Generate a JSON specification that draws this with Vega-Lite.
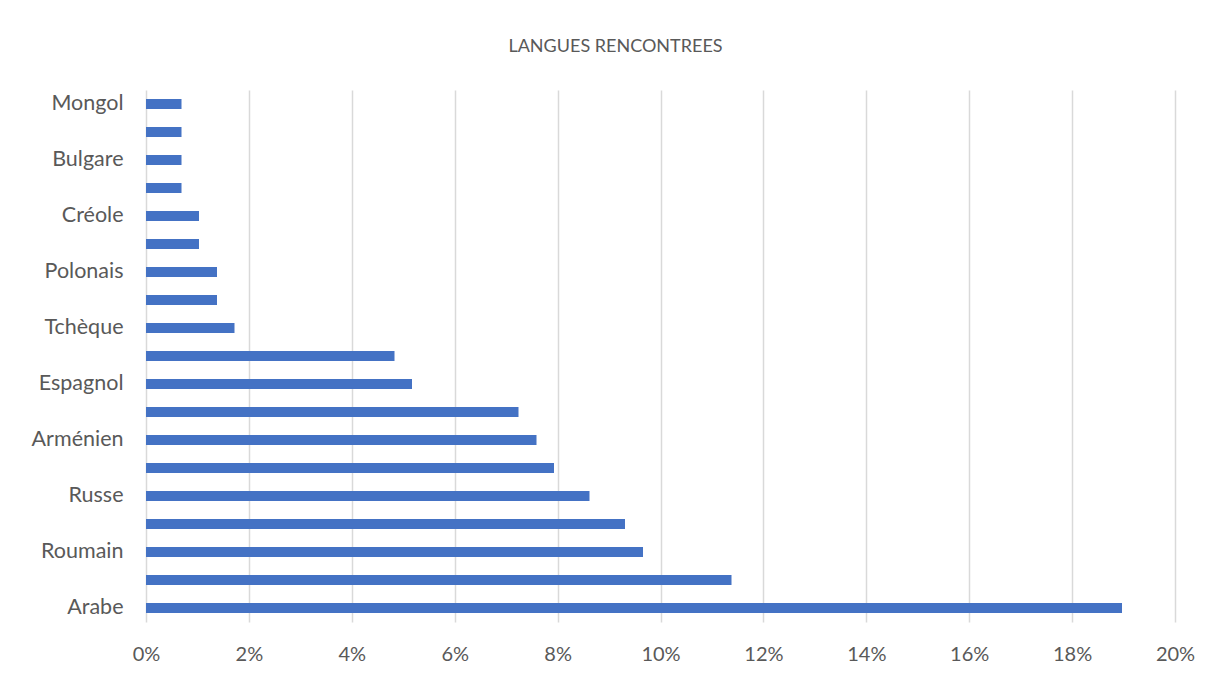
{
  "$schema": "https://vega.github.io/schema/vega-lite/v6.json",
  "autosize": {"type": "none"},
  "width": 1029,
  "height": 532,
  "padding": {"left": 146, "top": 90, "right": 37, "bottom": 53},
  "background": "white",
  "title": {
    "text": "LANGUES RENCONTREES",
    "anchor": "middle",
    "dx": -45,
    "offset": 20,
    "baseline": "alphabetic",
    "font": "Lato",
    "fontSize": 18,
    "fontWeight": "normal",
    "color": "#595959"
  },
  "data": {
    "values": [
      {"ordre": 1, "langue": "Arabe", "part": 0.1897},
      {"ordre": 2, "langue": null, "part": 0.1138},
      {"ordre": 3, "langue": "Roumain", "part": 0.0966},
      {"ordre": 4, "langue": null, "part": 0.0931},
      {"ordre": 5, "langue": "Russe", "part": 0.0862},
      {"ordre": 6, "langue": null, "part": 0.0793},
      {"ordre": 7, "langue": "Arménien", "part": 0.0759},
      {"ordre": 8, "langue": null, "part": 0.0724},
      {"ordre": 9, "langue": "Espagnol", "part": 0.0517},
      {"ordre": 10, "langue": null, "part": 0.0483},
      {"ordre": 11, "langue": "Tchèque", "part": 0.0172},
      {"ordre": 12, "langue": null, "part": 0.0138},
      {"ordre": 13, "langue": "Polonais", "part": 0.0138},
      {"ordre": 14, "langue": null, "part": 0.0103},
      {"ordre": 15, "langue": "Créole", "part": 0.0103},
      {"ordre": 16, "langue": null, "part": 0.0069},
      {"ordre": 17, "langue": "Bulgare", "part": 0.0069},
      {"ordre": 18, "langue": null, "part": 0.0069},
      {"ordre": 19, "langue": "Mongol", "part": 0.0069}
    ]
  },
  "mark": {"type": "bar", "color": "#4472C4"},
  "encoding": {
    "y": {
      "field": "ordre",
      "type": "ordinal",
      "sort": "descending",
      "scale": {"paddingInner": 0.65, "paddingOuter": 0.325},
      "axis": {
        "title": null,
        "domain": false,
        "ticks": false,
        "grid": false,
        "labelPadding": 23,
        "labelFont": "Lato",
        "labelFontSize": 21.5,
        "labelColor": "#595959",
        "labelOverlap": false,
        "labelExpr": "({'1':'Arabe','3':'Roumain','5':'Russe','7':'Arménien','9':'Espagnol','11':'Tchèque','13':'Polonais','15':'Créole','17':'Bulgare','19':'Mongol'})[datum.label] || ''"
      }
    },
    "x": {
      "field": "part",
      "type": "quantitative",
      "scale": {"domain": [0, 0.2], "nice": false},
      "axis": {
        "title": null,
        "format": ".0%",
        "values": [0, 0.02, 0.04, 0.06, 0.08, 0.1, 0.12, 0.14, 0.16, 0.18, 0.2],
        "domain": false,
        "ticks": false,
        "grid": true,
        "gridColor": "#d9d9d9",
        "gridWidth": 1.5,
        "labelPadding": 22,
        "labelFont": "Lato",
        "labelFontSize": 20,
        "labelColor": "#595959",
        "labelOverlap": false,
        "labelFlush": false
      }
    }
  },
  "config": {"view": {"stroke": null}}
}
